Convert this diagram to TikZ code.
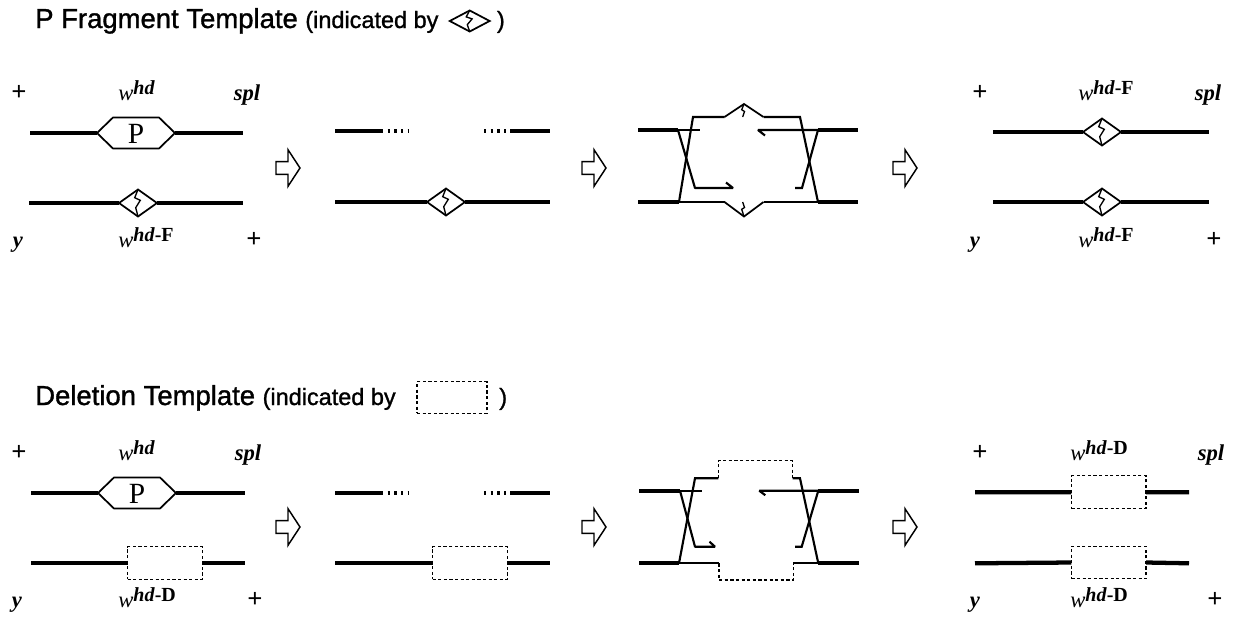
\documentclass[tikz,border=0pt]{standalone}
\usepackage{fontspec}
\setmainfont{Liberation Serif}
\newfontfamily\headfont[FakeBold=1.2]{Liberation Sans}
\usetikzlibrary{calc}
% w^{hd-X} label: italic w, raised bold italic hd and bold suffix
\newcommand\wlab[1]{\textit{w}\raisebox{4.5pt}{\fontsize{15}{15}\selectfont\textbf{\textit{hd}}\textbf{#1}}}
\newcommand\plus{{\fontsize{20}{20}\selectfont\textbf{+}}}
\tikzset{
  strand/.style={line width=3.2pt},
  fine/.style={line width=1.6pt, line join=miter},
  hook/.style={line width=1.6pt, line join=bevel},
  outline/.style={line width=1.3pt, line join=miter},
  dotrun/.style={line width=3.2pt, dash pattern=on 1.8pt off 3.2pt},
  dashrun/.style={line width=0.9pt, dash pattern=on 2.4pt off 1.8pt},
  delbox/.style={draw, line width=0.9pt, dash pattern=on 2.4pt off 1.8pt,
    inner sep=0, outer sep=0, minimum width=56pt, minimum height=24.5pt},
  lbl/.style={inner sep=0, anchor=base, font=\fontsize{17}{17}\selectfont},
  wlbl/.style={inner sep=0, anchor=base west, font=\fontsize{17}{17}\selectfont},
  headbig/.style={anchor=base west, inner sep=0, font=\headfont\fontsize{20.6}{20.6}\selectfont},
  headsmall/.style={anchor=base west, inner sep=0, font=\headfont\fontsize{17.6}{17.6}\selectfont},
  pics/hexP/.style={code={
    \draw[outline] (-39,0) -- (-23,-15.5) -- (23,-15.5) -- (39,0) -- (23,15.5) -- (-23,15.5) -- cycle;
    \node[inner sep=0, font=\fontsize{22}{22}\selectfont] at (0,0.5) {P};
    \coordinate (-w) at (-39,0); \coordinate (-e) at (39,0);
  }},
  pics/fragdia/.style={code={
    \draw[outline] (-19,0) -- (0,-13.5) -- (19,0) -- (0,13.5) -- cycle;
    \draw[line width=1pt] (0,-13.5) -- (-3.3,-5.3) -- (2.3,-2.7) -- (-2.3,4.7) -- (0,13.5);
    \coordinate (-w) at (-19,0); \coordinate (-e) at (19,0);
  }},
  pics/fragup/.style={code={
    \draw[outline] (-19.5,0) -- (0,-13) -- (19.5,0);
    \draw[line width=1pt] (0,-13) -- (-2.3,-7.3) -- (0.5,-5.5) -- (-1.3,0);
    \coordinate (-w) at (-19.5,0); \coordinate (-e) at (19.5,0);
  }},
  pics/fragdown/.style={code={
    \draw[outline] (-19.5,0) -- (0,14.5) -- (19.5,0);
    \draw[line width=1pt] (-1.3,0) -- (0.5,5.5) -- (-2.3,7.3) -- (0,14.5);
    \coordinate (-w) at (-19.5,0); \coordinate (-e) at (19.5,0);
  }},
  pics/flowarrow/.style={code={
    \draw[line width=1.1pt, line join=miter] (-12,-6.3) -- (0,-6.3) -- (0,-18.3) -- (12,0)
      -- (0,18.3) -- (0,6.3) -- (-12,6.3) -- cycle;
  }},
}
\begin{document}
\begin{tikzpicture}[x=0.75pt, y=-0.75pt]
\useasboundingbox (0,0) rectangle (1233,619);

% ---------- headings ----------
\node[headbig] (t1) at (35,28) {P Fragment Template};
\node[headsmall] (t1b) at ($(t1.base east)+(7,0)$) {(indicated by};
\pic[xscale=1.05, yscale=0.78] (ic) at ($(t1b.base east)+(31,-7)$) {fragdia};
\node[headsmall] (t1c) at ($(t1b.base east)+(58,0)$) {)};

\node[headbig] (t2) at (35,405) {Deletion Template};
\node[headsmall] (t2b) at ($(t2.base east)+(7,0)$) {(indicated by};
\node[delbox, minimum width=52.5pt, minimum height=23.5pt] (ib) at (452,397.5) {};
\node[headsmall] (t2c) at (499,405) {)};

% ---------- P fragment row ----------
% panel 1
\node[lbl] (p1a) at (19,100) {\plus};
\node[wlbl] (p1b) at (118,100) {\textit{w}\raisebox{4.5pt}{\fontsize{15}{15}\selectfont\textbf{\textit{hd}}}};
\node[lbl] (p1c) at (247,100) {\textbf{\textit{spl}}};
\pic (h1) at (136,133) {hexP};
\coordinate (a1) at (30,133); \coordinate (b1) at (243,133);
\draw[strand] (a1) -- (h1-w); \draw[strand] (h1-e) -- (b1);
\pic (d1) at (138,203) {fragdia};
\coordinate (a2) at (29,203); \coordinate (b2) at (243,203);
\draw[strand] (a2) -- (d1-w); \draw[strand] (d1-e) -- (b2);
\node[lbl] (p1d) at (18,247) {\textbf{\textit{y}}};
\node[wlbl] (p1e) at (118,247) {\wlab{-F}};
\node[lbl] (p1f) at (254,247) {\plus};

\pic at (288,168) {flowarrow};

% panel 2
\coordinate (c1) at (335,131); \coordinate (c2) at (381,131); \coordinate (c3) at (409,131);
\coordinate (c4) at (484,131); \coordinate (c5) at (510,131); \coordinate (c6) at (550,131);
\draw[strand] (c1) -- (c2); \draw[dotrun] (c2) -- (c3);
\draw[dotrun] (c4) -- (c5); \draw[strand] (c5) -- (c6);
\pic (d2) at (446,202) {fragdia};
\coordinate (c7) at (335,202); \coordinate (c8) at (550,202);
\draw[strand] (c7) -- (d2-w); \draw[strand] (d2-e) -- (c8);

\pic at (594,168) {flowarrow};

% panel 3: exchange intermediate
\coordinate (L1) at (638,130); \coordinate (X1) at (678,130); \coordinate (S1) at (700,130);
\coordinate (K1) at (695,188); \coordinate (H1) at (733,188);
\coordinate (T1) at (693,117); \coordinate (B1) at (679,202);
\coordinate (T2) at (800,117); \coordinate (B2) at (818,202);
\coordinate (X2) at (818,130); \coordinate (R1) at (858,130); \coordinate (H2) at (758,130);
\coordinate (K2) at (802,188); \coordinate (S2) at (795,188);
\coordinate (L2) at (638,202); \coordinate (R2) at (858,202);
\pic (qu) at (744,117) {fragup};
\pic (qd) at (744,202) {fragdown};
\draw[strand] (L1) -- (X1); \draw[fine] (X1) -- (S1);
\draw[hook] (X1) -- (K1) -- (H1) -- +(-7,-5.5);
\draw[fine] (B1) -- (T1) -- (qu-w); \draw[fine] (qu-e) -- (T2) -- (B2);
\draw[strand] (L2) -- (B1); \draw[fine] (B1) -- (qd-w); \draw[fine] (qd-e) -- (B2);
\draw[strand] (B2) -- (R2);
\draw[hook] ($(H2)+(7,5.5)$) -- (H2) -- (X2); \draw[strand] (X2) -- (R1);
\draw[fine] (X2) -- (K2) -- (S2);

\pic at (905,168) {flowarrow};

% panel 4
\node[lbl] (p4a) at (980,100) {\plus};
\node[wlbl] (p4b) at (1078,100) {\wlab{-F}};
\node[lbl] (p4c) at (1208,100) {\textbf{\textit{spl}}};
\pic (d3) at (1102,132) {fragdia};
\coordinate (e1) at (993,132); \coordinate (e2) at (1209,132);
\draw[strand] (e1) -- (d3-w); \draw[strand] (d3-e) -- (e2);
\pic (d4) at (1102,202) {fragdia};
\coordinate (e3) at (993,202); \coordinate (e4) at (1209,202);
\draw[strand] (e3) -- (d4-w); \draw[strand] (d4-e) -- (e4);
\node[lbl] (p4d) at (975,247) {\textbf{\textit{y}}};
\node[wlbl] (p4e) at (1078,247) {\wlab{-F}};
\node[lbl] (p4f) at (1214,247) {\plus};

% ---------- deletion row ----------
\begin{scope}[shift={(0,360)}]
% panel 1
\node[lbl] (q1a) at (19,100) {\plus};
\node[wlbl] (q1b) at (118,100) {\textit{w}\raisebox{4.5pt}{\fontsize{15}{15}\selectfont\textbf{\textit{hd}}}};
\node[lbl] (q1c) at (248,100) {\textbf{\textit{spl}}};
\pic (h2) at (137,133) {hexP};
\coordinate (f1) at (31,133); \coordinate (f2) at (245,133);
\draw[strand] (f1) -- (h2-w); \draw[strand] (h2-e) -- (f2);
\node[delbox] (x1) at (165,203) {};
\coordinate (f3) at (31,203); \coordinate (f4) at (245,203);
\draw[strand] (f3) -- (x1.west); \draw[strand] (x1.east) -- (f4);
\node[lbl] (q1d) at (17,247) {\textbf{\textit{y}}};
\node[wlbl] (q1e) at (118,247) {\wlab{-D}};
\node[lbl] (q1f) at (255,247) {\plus};

\pic at (288,167) {flowarrow};

% panel 2
\coordinate (g1) at (335,133); \coordinate (g2) at (381,133); \coordinate (g3) at (409,133);
\coordinate (g4) at (484,133); \coordinate (g5) at (510,133); \coordinate (g6) at (550,133);
\draw[strand] (g1) -- (g2); \draw[dotrun] (g2) -- (g3);
\draw[dotrun] (g4) -- (g5); \draw[strand] (g5) -- (g6);
\node[delbox] (x2) at (470,203) {};
\coordinate (g7) at (335,203); \coordinate (g8) at (550,203);
\draw[strand] (g7) -- (x2.west); \draw[strand] (x2.east) -- (g8);

\pic at (594,167) {flowarrow};

% panel 3: exchange intermediate with the gap
\coordinate (M1) at (639,130.7); \coordinate (Y1) at (680,130.7); \coordinate (U1) at (701.7,130.7);
\coordinate (N1) at (695,186.7); \coordinate (J1) at (715,186.7);
\coordinate (V1) at (695,118.3); \coordinate (W1) at (679,203.3);
\coordinate (D1) at (718.3,118.3); \coordinate (D2) at (792.7,118.3);
\coordinate (V2) at (800,118.3); \coordinate (W2) at (818.3,203.3);
\coordinate (E1) at (719,203.3); \coordinate (E2) at (793.3,203.3);
\coordinate (Y2) at (818.3,130.7); \coordinate (Z1) at (859.3,130.7); \coordinate (J2) at (759.3,130.7);
\coordinate (N2) at (801.7,186.7); \coordinate (U2) at (795,186.7);
\coordinate (M2) at (639,203.3); \coordinate (Z2) at (859.3,203.3);
\draw[strand] (M1) -- (Y1); \draw[fine] (Y1) -- (U1);
\draw[hook] (Y1) -- (N1) -- (J1) -- +(-5.5,-5);
\draw[fine] (W1) -- (V1) -- (D1);
\draw[dashrun] (D1) -- (718.3,100.7) -- (792.7,100.7) -- (D2);
\draw[fine] (D2) -- (V2) -- (W2);
\draw[strand] (M2) -- (W1); \draw[fine] (W1) -- (E1);
\draw[dashrun] (E1) -- (719,220) -- (793.3,220) -- (E2);
\draw[fine] (E2) -- (W2); \draw[strand] (W2) -- (Z2);
\draw[hook] ($(J2)+(6,4.5)$) -- (J2) -- (Y2); \draw[strand] (Y2) -- (Z1);
\draw[fine] (Y2) -- (N2) -- (U2);

\pic at (905,167) {flowarrow};

% panel 4
\node[lbl] (q4a) at (980,100) {\plus};
\node[wlbl] (q4b) at (1070,100) {\wlab{-D}};
\node[lbl] (q4c) at (1211,100) {\textbf{\textit{spl}}};
\node[delbox] (x3) at (1108.7,132.2) {};
\coordinate (k1) at (975,132.3); \coordinate (k2) at (1189,132.3);
\draw[strand] (k1) -- (x3.west); \draw[strand] (x3.east) -- (k2);
\node[delbox] (x4) at (1108.7,202.5) {};
\coordinate (k3) at (975,203.3); \coordinate (k4) at (1189,203.3);
\draw[strand] (k3) -- (x4.west); \draw[strand] (x4.east) -- (k4);
\node[lbl] (q4d) at (975,247) {\textbf{\textit{y}}};
\node[wlbl] (q4e) at (1070,247) {\wlab{-D}};
\node[lbl] (q4f) at (1215,247) {\plus};
\end{scope}
\end{tikzpicture}
\end{document}
